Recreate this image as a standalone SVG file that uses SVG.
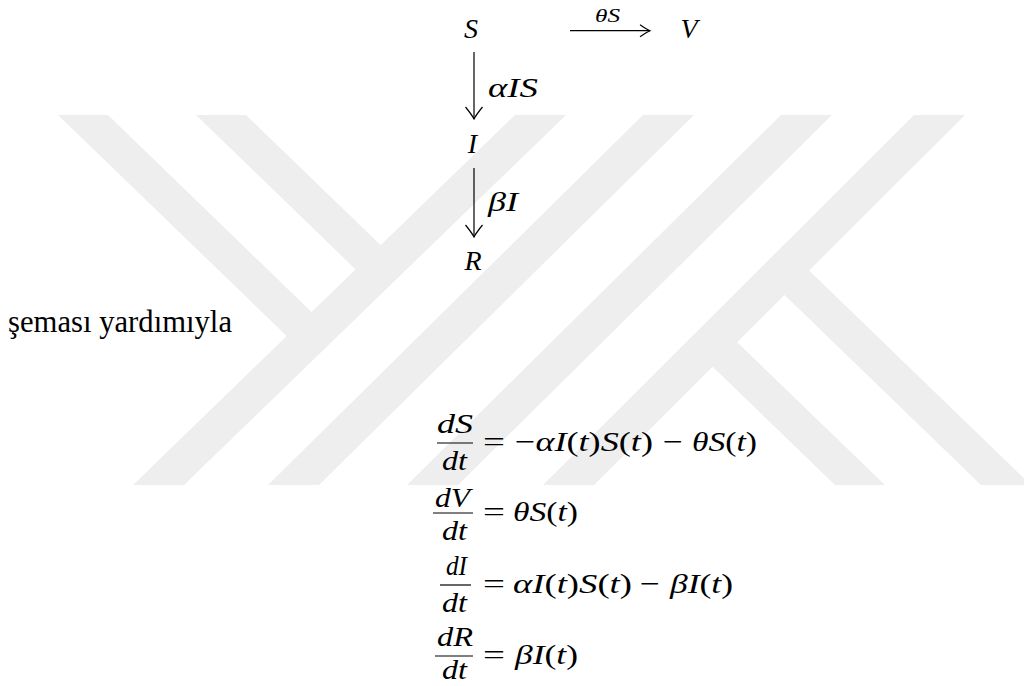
<svg xmlns="http://www.w3.org/2000/svg" width="1024" height="686" viewBox="0 0 1024 686">
<defs>
<style>
.wm{fill:#eeeeee;stroke:none}
.m{font-family:"Liberation Serif","Times New Roman",serif;font-size:28px;fill:#000}
.i{font-style:italic}
.u{font-style:normal}
.sm{font-size:19px}
.txt{font-family:"Liberation Serif","Times New Roman",serif;font-size:32px;fill:#000}
.ar{stroke:#000;stroke-width:1.2;fill:none}
.bar{stroke:#000;stroke-width:1.2}
</style>
<marker id="head" markerUnits="userSpaceOnUse" orient="auto" refX="0" refY="0" markerWidth="30" markerHeight="30" viewBox="-15 -15 30 30" overflow="visible">
<path d="M-12,-8.5 Q-4,-2 0,0 Q-4,2 -12,8.5" fill="none" stroke="#000" stroke-width="1.2"/>
</marker>
<marker id="heads" markerUnits="userSpaceOnUse" orient="auto" refX="0" refY="0" markerWidth="30" markerHeight="30" viewBox="-15 -15 30 30" overflow="visible">
<path d="M-10,-6 Q-3.5,-1.5 0,0 Q-3.5,1.5 -10,6" fill="none" stroke="#000" stroke-width="1.2"/>
</marker>
</defs>
<rect width="1024" height="686" fill="#ffffff"/>
<g id="watermark">
<polygon class="wm" points="515,115 566,115 184,485 133,485"/>
<polygon class="wm" points="643,115 694,115 319,485 268,485"/>
<polygon class="wm" points="781,115 832,115 458,485 407,485"/>
<polygon class="wm" points="914,115 965,115 594,485 543,485"/>
<polygon class="wm" points="58,115 108,115 315.7,316 290.8,340"/>
<polygon class="wm" points="196,115 246,115 384.7,249 359.7,273.4"/>
<polygon class="wm" points="708.7,362.9 733.3,338.4 885,485 835,485"/>
<polygon class="wm" points="780.4,291 805,266.6 1031,485 981,485"/>
</g>
<g id="connectors">
<line id="e-S-I" class="ar" x1="474" y1="52" x2="474" y2="119" marker-end="url(#head)"/>
<line id="e-I-R" class="ar" x1="474" y1="168" x2="474" y2="237" marker-end="url(#head)"/>
<line id="e-S-V" class="ar" x1="570" y1="30.7" x2="650" y2="30.7" marker-end="url(#heads)"/>
<text class="m i" x="488" y="97" textLength="50" lengthAdjust="spacingAndGlyphs">αIS</text>
<text class="m i" x="488" y="211" textLength="30" lengthAdjust="spacingAndGlyphs">βI</text>
<text class="m i sm" x="595" y="22" textLength="25" lengthAdjust="spacingAndGlyphs">θS</text>
</g>
<g id="node-S"><text class="m i" x="471" y="38" text-anchor="middle">S</text></g>
<g id="node-V"><text class="m i" x="689" y="38" text-anchor="middle">V</text></g>
<g id="node-I"><text class="m i" x="472.5" y="153" text-anchor="middle">I</text></g>
<g id="node-R"><text class="m i" x="473" y="270" text-anchor="middle">R</text></g>
<g id="caption">
<text class="txt" x="8" y="332" textLength="224" lengthAdjust="spacingAndGlyphs">şeması yardımıyla</text>
</g>
<g id="equations">
<g id="eq1">
<text class="m i" x="437" y="433" textLength="36" lengthAdjust="spacingAndGlyphs">dS</text>
<line class="bar" x1="437" y1="443" x2="473" y2="443"/>
<text class="m i" x="442" y="470" textLength="25" lengthAdjust="spacingAndGlyphs">dt</text>
<text class="m u" x="483" y="451" textLength="22" lengthAdjust="spacingAndGlyphs">=</text>
<text class="m" x="515" y="451" textLength="138" lengthAdjust="spacingAndGlyphs"><tspan class="u">−</tspan><tspan class="i">αI</tspan><tspan class="u">(</tspan><tspan class="i">t</tspan><tspan class="u">)</tspan><tspan class="i">S</tspan><tspan class="u">(</tspan><tspan class="i">t</tspan><tspan class="u">)</tspan></text>
<text class="m u" x="663" y="451" textLength="20" lengthAdjust="spacingAndGlyphs">−</text>
<text class="m" x="692" y="451" textLength="65" lengthAdjust="spacingAndGlyphs"><tspan class="i">θS</tspan><tspan class="u">(</tspan><tspan class="i">t</tspan><tspan class="u">)</tspan></text>
</g>
<g id="eq2">
<text class="m i" x="435" y="507" textLength="35" lengthAdjust="spacingAndGlyphs">dV</text>
<line class="bar" x1="433" y1="513" x2="473" y2="513"/>
<text class="m i" x="442" y="540" textLength="25" lengthAdjust="spacingAndGlyphs">dt</text>
<text class="m u" x="483" y="521" textLength="22" lengthAdjust="spacingAndGlyphs">=</text>
<text class="m" x="513" y="521" textLength="65" lengthAdjust="spacingAndGlyphs"><tspan class="i">θS</tspan><tspan class="u">(</tspan><tspan class="i">t</tspan><tspan class="u">)</tspan></text>
</g>
<g id="eq3">
<text class="m i" x="446" y="575" textLength="21" lengthAdjust="spacingAndGlyphs">dI</text>
<line class="bar" x1="440" y1="585" x2="471" y2="585"/>
<text class="m i" x="442" y="612" textLength="25" lengthAdjust="spacingAndGlyphs">dt</text>
<text class="m u" x="483" y="593" textLength="22" lengthAdjust="spacingAndGlyphs">=</text>
<text class="m" x="513" y="593" textLength="119" lengthAdjust="spacingAndGlyphs"><tspan class="i">αI</tspan><tspan class="u">(</tspan><tspan class="i">t</tspan><tspan class="u">)</tspan><tspan class="i">S</tspan><tspan class="u">(</tspan><tspan class="i">t</tspan><tspan class="u">)</tspan></text>
<text class="m u" x="640" y="593" textLength="20" lengthAdjust="spacingAndGlyphs">−</text>
<text class="m" x="670" y="593" textLength="63" lengthAdjust="spacingAndGlyphs"><tspan class="i">βI</tspan><tspan class="u">(</tspan><tspan class="i">t</tspan><tspan class="u">)</tspan></text>
</g>
<g id="eq4">
<text class="m i" x="437" y="646" textLength="36" lengthAdjust="spacingAndGlyphs">dR</text>
<line class="bar" x1="435" y1="656" x2="473" y2="656"/>
<text class="m i" x="442" y="679" textLength="25" lengthAdjust="spacingAndGlyphs">dt</text>
<text class="m u" x="483" y="664" textLength="22" lengthAdjust="spacingAndGlyphs">=</text>
<text class="m" x="515" y="664" textLength="63" lengthAdjust="spacingAndGlyphs"><tspan class="i">βI</tspan><tspan class="u">(</tspan><tspan class="i">t</tspan><tspan class="u">)</tspan></text>
</g>
</g>
</svg>
